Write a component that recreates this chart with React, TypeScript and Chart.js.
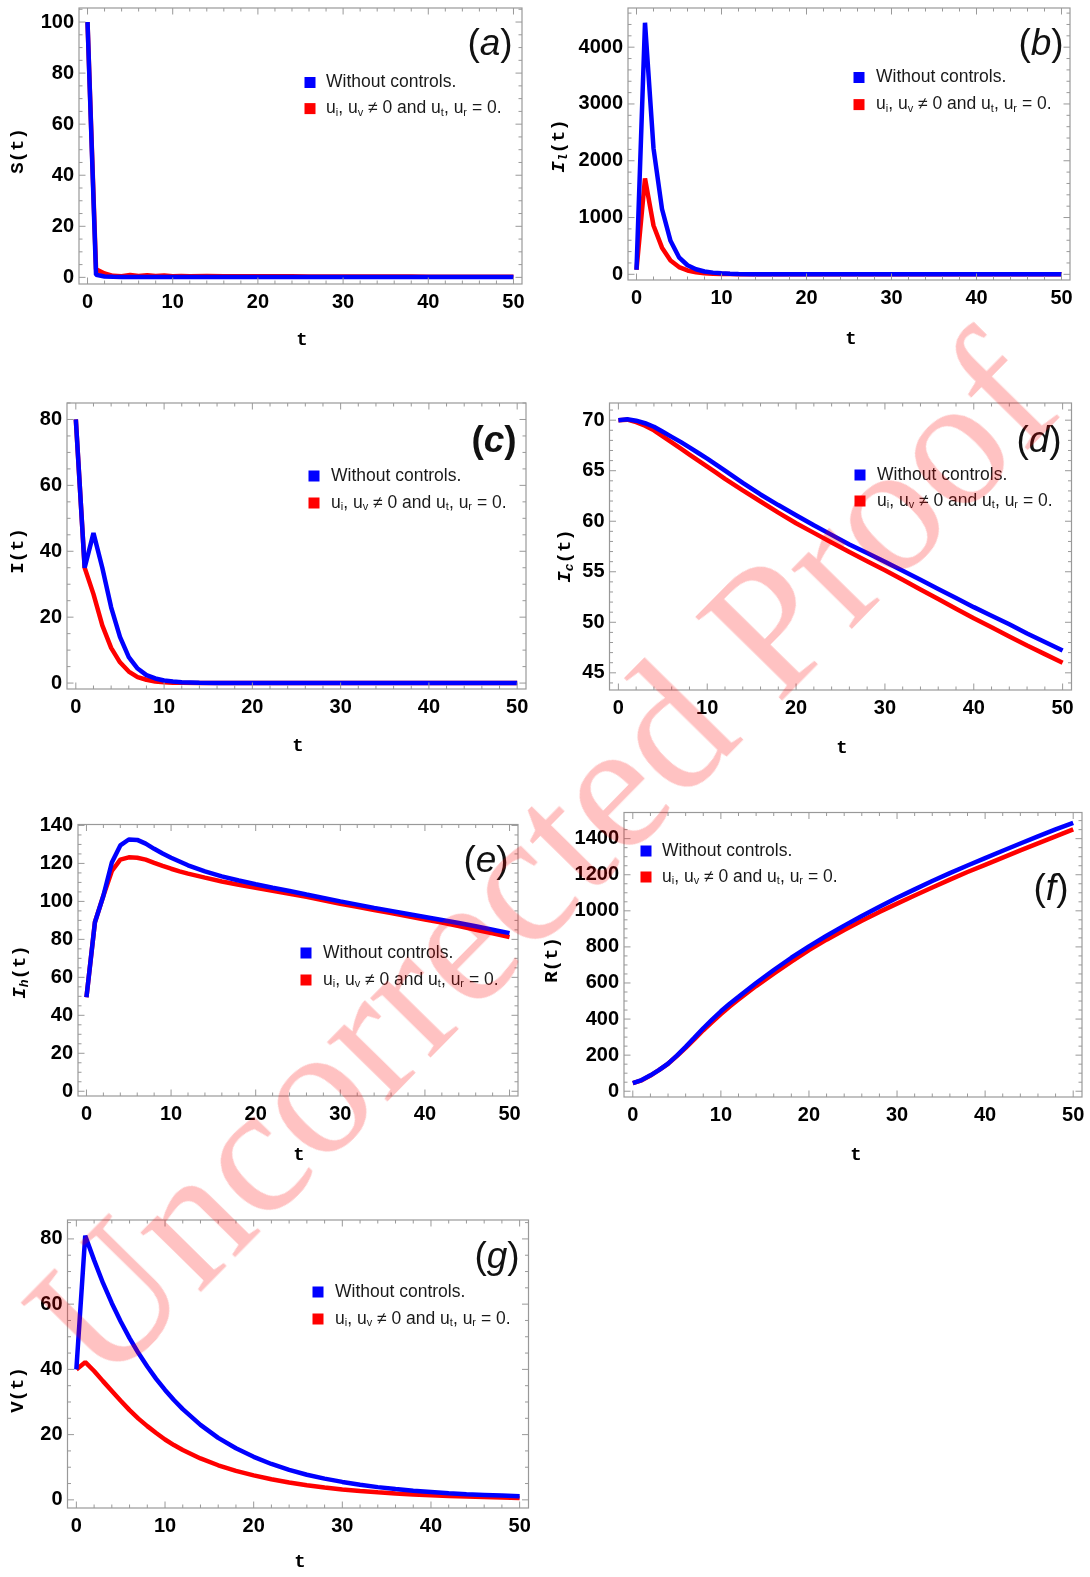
import React, { useEffect, useRef } from 'react';
import { Chart, registerables } from 'chart.js';

Chart.register(...registerables);

// ---------- data ----------
const T = [0, 1, 2, 3, 4, 5, 6, 7, 8, 9, 10, 11, 12, 14, 16, 18, 20, 22, 24, 26, 28, 30, 32, 34, 36, 38, 40, 42, 44, 46, 48, 50];

const S_blue = [100, 1.0, 0.35, 0.2, 0.15, 0.12, 0.1, 0.1, 0.1, 0.1, 0.1, 0.1, 0.1, 0.1, 0.1, 0.1, 0.1, 0.1, 0.1, 0.1, 0.1, 0.1, 0.1, 0.1, 0.1, 0.1, 0.1, 0.1, 0.1, 0.1, 0.1, 0.1];
const S_red = [100, 3.2, 1.5, 0.6, 0.4, 0.9, 0.5, 0.8, 0.5, 0.7, 0.45, 0.55, 0.45, 0.5, 0.45, 0.45, 0.4, 0.4, 0.4, 0.35, 0.35, 0.35, 0.3, 0.3, 0.3, 0.3, 0.25, 0.25, 0.25, 0.25, 0.2, 0.2];

const IL_blue = [80, 4430, 2220, 1150, 590, 300, 160, 90, 50, 30, 18, 11, 6, 2, 1, 0.5, 0.3, 0.2, 0.1, 0.1, 0.1, 0.1, 0.1, 0.1, 0.1, 0.1, 0.1, 0.1, 0.1, 0.1, 0.1, 0.1];
const IL_red = [80, 1690, 860, 470, 245, 128, 68, 36, 20, 11, 6, 3.5, 2, 0.7, 0.3, 0.15, 0.1, 0.1, 0.1, 0.1, 0.1, 0.1, 0.1, 0.1, 0.1, 0.1, 0.1, 0.1, 0.1, 0.1, 0.1, 0.1];

const I_blue = [80, 35, 45.5, 35, 23, 14, 7.9, 4.4, 2.4, 1.4, 0.8, 0.45, 0.25, 0.1, 0.05, 0.02, 0.01, 0, 0, 0, 0, 0, 0, 0, 0, 0, 0, 0, 0, 0, 0, 0];
const I_red = [80, 35, 27, 17.5, 10.7, 6.3, 3.5, 1.8, 1.0, 0.5, 0.25, 0.12, 0.06, 0.02, 0.01, 0, 0, 0, 0, 0, 0, 0, 0, 0, 0, 0, 0, 0, 0, 0, 0, 0];

const Ic_blue = [70.0, 70.1, 69.95, 69.7, 69.35, 68.85, 68.35, 67.85, 67.3, 66.75, 66.2, 65.6, 65.0, 63.8, 62.65, 61.6, 60.6, 59.6, 58.65, 57.7, 56.85, 56.0, 55.1, 54.2, 53.3, 52.4, 51.5, 50.65, 49.8, 48.9, 48.05, 47.2];
const Ic_red = [70.0, 70.05, 69.8, 69.45, 69.0, 68.4, 67.8, 67.2, 66.6, 66.0, 65.4, 64.8, 64.2, 63.05, 61.95, 60.85, 59.8, 58.85, 57.9, 56.95, 56.05, 55.15, 54.2, 53.25, 52.3, 51.35, 50.4, 49.5, 48.6, 47.7, 46.85, 46.0];

const Ih_blue = [49.5, 89, 103, 120.5, 129.5, 132.6, 132.4, 130.4, 127.7, 125.2, 123, 121, 119, 115.8, 113.2, 111, 109, 107.2, 105.5, 103.6, 101.8, 100, 98.3, 96.6, 95, 93.4, 91.8, 90.2, 88.6, 86.9, 85.1, 83.3];
const Ih_red = [49.5, 89, 103, 116, 122, 123.2, 123, 122, 120.3, 118.7, 117.2, 115.8, 114.6, 112.5, 110.5, 108.8, 107.2, 105.6, 104, 102.4, 100.6, 98.8, 97.2, 95.5, 93.9, 92.2, 90.5, 88.8, 87, 85.1, 83.2, 81.2];

const R_blue = [45, 62, 88, 118, 153, 197, 246, 297, 349, 397, 443, 485, 523, 600, 672, 740, 803, 862, 918, 971, 1022, 1072, 1119, 1165, 1209, 1251, 1292, 1333, 1373, 1413, 1451, 1488];
const R_red = [45, 60, 87, 118, 152, 195, 240, 288, 338, 383, 428, 470, 508, 583, 652, 718, 782, 840, 894, 945, 994, 1040, 1085, 1129, 1173, 1215, 1255, 1295, 1335, 1374, 1413, 1451];

const V_blue = [40, 81, 73.5, 66.5, 60.3, 54.7, 49.6, 45, 40.9, 37.1, 33.7, 30.6, 27.8, 23, 19, 15.8, 13.2, 11, 9.2, 7.7, 6.5, 5.5, 4.6, 3.9, 3.3, 2.8, 2.4, 2.0, 1.7, 1.5, 1.3, 1.1];
const V_red = [40, 42.2, 39.5, 36.4, 33.4, 30.4, 27.5, 24.9, 22.6, 20.5, 18.5, 16.8, 15.3, 12.7, 10.6, 8.9, 7.5, 6.3, 5.3, 4.5, 3.8, 3.2, 2.7, 2.3, 1.95, 1.65, 1.4, 1.2, 1.0, 0.85, 0.72, 0.6];

// tick labels
const X_TICKS = [0, 10, 20, 30, 40, 50];
const S_TICKS = [0, 20, 40, 60, 80, 100];
const IL_TICKS = [0, 1000, 2000, 3000, 4000];
const I_TICKS = [0, 20, 40, 60, 80];
const IC_TICKS = [45, 50, 55, 60, 65, 70];
const IH_TICKS = [0, 20, 40, 60, 80, 100, 120, 140];
const R_TICKS = [0, 200, 400, 600, 800, 1000, 1200, 1400];
const V_TICKS = [0, 20, 40, 60, 80];

const X_MIN = -1;
const X_MAX = 51;
const X_STEP = 10;
const X_MINOR = 2;

const LEGEND_BLUE = 'Without controls.';
const LEGEND_RED = 'ui, uv \u2260 0 and ut, ur = 0.';

// ---------- styles ----------
const BLUE = '#0000ff';
const RED = '#ff0000';
const FRAME = '#999999';
const MONO = '"Liberation Mono", "DejaVu Sans Mono", monospace';
const SANS = '"Liberation Sans", Arial, sans-serif';

type Part = { t: string; f: string; dy?: number };

const TITLE_F = `bold 19px ${MONO}`;
const TITLE_IT = `italic bold 19px ${MONO}`;
const TITLE_SUB = `italic bold 13px ${MONO}`;
const LEG_F = `17.5px ${SANS}`;
const LEG_SUB = `11px ${SANS}`;

const legendRed: Part[] = [
  { t: 'u', f: LEG_F }, { t: 'i', f: LEG_SUB, dy: 4 },
  { t: ', u', f: LEG_F }, { t: 'v', f: LEG_SUB, dy: 4 },
  { t: ' \u2260 0 and u', f: LEG_F }, { t: 't', f: LEG_SUB, dy: 4 },
  { t: ', u', f: LEG_F }, { t: 'r', f: LEG_SUB, dy: 4 },
  { t: ' = 0.', f: LEG_F },
];

const sub = (main: string, s: string): Part[] => [
  { t: main, f: TITLE_IT },
  { t: s, f: TITLE_SUB, dy: 5 },
  { t: '(t)', f: TITLE_F },
];

type Panel = {
  id: string;
  blue: number[];
  red: number[];
  yTicks: number[];
  yMin: number; yMax: number; yStep: number; yMinor: number;
  frame: { l: number; t: number; r: number; b: number };
  cv: { x: number; y: number; w: number; h: number };
  yTitle: Part[]; yTitlePos: [number, number];
  xTitlePos: [number, number];
  label: string; labelPos: [number, number]; labelBold?: boolean;
  legend: { sx: number; y1: number; y2: number; tx: number };
};

const PANELS: Panel[] = [
  {
    id: 'a', blue: S_blue, red: S_red, yTicks: S_TICKS, yMin: -2.6, yMax: 105.5, yStep: 20, yMinor: 5,
    frame: { l: 79, t: 8, r: 522, b: 284 }, cv: { x: 0, y: 0, w: 545, h: 360 },
    yTitle: [{ t: 'S(t)', f: TITLE_F }], yTitlePos: [18, 151], xTitlePos: [302, 340],
    label: 'a', labelPos: [490, 45], legend: { sx: 310, y1: 82.5, y2: 108.6, tx: 326 },
  },
  {
    id: 'b', blue: IL_blue, red: IL_red, yTicks: IL_TICKS, yMin: -100, yMax: 4690, yStep: 1000, yMinor: 200,
    frame: { l: 628, t: 8, r: 1070, b: 280 }, cv: { x: 540, y: 0, w: 550, h: 360 },
    yTitle: sub('I', 'l'), yTitlePos: [559, 146], xTitlePos: [851, 339],
    label: 'b', labelPos: [1041, 45], legend: { sx: 859, y1: 77.5, y2: 104.6, tx: 876 },
  },
  {
    id: 'c', blue: I_blue, red: I_red, yTicks: I_TICKS, yMin: -1.8, yMax: 85, yStep: 20, yMinor: 5,
    frame: { l: 67, t: 403, r: 526, b: 689 }, cv: { x: 0, y: 378, w: 545, h: 392 },
    yTitle: [{ t: 'I(t)', f: TITLE_F }], yTitlePos: [18, 551], xTitlePos: [298, 746],
    label: 'c', labelPos: [494, 442], labelBold: true, legend: { sx: 314, y1: 476, y2: 503, tx: 331 },
  },
  {
    id: 'd', blue: Ic_blue, red: Ic_red, yTicks: IC_TICKS, yMin: 43.3, yMax: 71.7, yStep: 5, yMinor: 1,
    frame: { l: 609.5, t: 403, r: 1071.5, b: 690 }, cv: { x: 540, y: 378, w: 550, h: 392 },
    yTitle: sub('I', 'c'), yTitlePos: [565, 556], xTitlePos: [842, 748],
    label: 'd', labelPos: [1039, 442], legend: { sx: 860, y1: 475, y2: 501, tx: 877 },
  },
  {
    id: 'e', blue: Ih_blue, red: Ih_red, yTicks: IH_TICKS, yMin: -2.5, yMax: 140.5, yStep: 20, yMinor: 5,
    frame: { l: 78, t: 824.5, r: 518, b: 1096 }, cv: { x: 0, y: 795, w: 545, h: 380 },
    yTitle: sub('I', 'h'), yTitlePos: [20, 972], xTitlePos: [299, 1155],
    label: 'e', labelPos: [486, 862], legend: { sx: 306, y1: 953, y2: 980, tx: 323 },
  },
  {
    id: 'f', blue: R_blue, red: R_red, yTicks: R_TICKS, yMin: -32, yMax: 1545, yStep: 200, yMinor: 50,
    frame: { l: 624, t: 812.5, r: 1082, b: 1097 }, cv: { x: 540, y: 790, w: 550, h: 385 },
    yTitle: [{ t: 'R(t)', f: TITLE_F }], yTitlePos: [552, 960], xTitlePos: [856, 1155],
    label: 'f', labelPos: [1051, 890], legend: { sx: 646, y1: 851, y2: 877, tx: 662 },
  },
  {
    id: 'g', blue: V_blue, red: V_red, yTicks: V_TICKS, yMin: -2.5, yMax: 85.8, yStep: 20, yMinor: 5,
    frame: { l: 67.5, t: 1220, r: 528.5, b: 1508 }, cv: { x: 0, y: 1195, w: 545, h: 382 },
    yTitle: [{ t: 'V(t)', f: TITLE_F }], yTitlePos: [18, 1390], xTitlePos: [300, 1562],
    label: 'g', labelPos: [497, 1258], legend: { sx: 318, y1: 1292, y2: 1319, tx: 335 },
  },
];

function measure(ctx: CanvasRenderingContext2D, parts: Part[]) {
  let w = 0;
  for (const p of parts) { ctx.font = p.f; w += ctx.measureText(p.t).width; }
  return w;
}

function drawRich(ctx: CanvasRenderingContext2D, parts: Part[], x: number, y: number, align: 'left' | 'center') {
  const w = measure(ctx, parts);
  let cx = align === 'center' ? x - w / 2 : x;
  ctx.textAlign = 'left';
  ctx.textBaseline = 'middle';
  for (const p of parts) {
    ctx.font = p.f;
    ctx.fillText(p.t, cx, y + (p.dy || 0));
    cx += ctx.measureText(p.t).width;
  }
}

function makePlugin(p: Panel) {
  return {
    id: 'mma_' + p.id,
    afterDraw(chart: any) {
      const ctx: CanvasRenderingContext2D = chart.ctx;
      const { left, right, top, bottom } = chart.chartArea;
      const xs = chart.scales.x;
      const ys = chart.scales.y;
      const ox = p.cv.x, oy = p.cv.y;
      ctx.save();
      // frame
      ctx.strokeStyle = FRAME;
      ctx.lineWidth = 1.2;
      ctx.strokeRect(left, top, right - left, bottom - top);
      // ticks on all four sides, inward
      ctx.lineWidth = 1;
      ctx.beginPath();
      const eps = 1e-6;
      for (let v = Math.ceil(X_MIN / X_MINOR) * X_MINOR; v <= X_MAX + eps; v += X_MINOR) {
        const major = Math.abs(v / X_STEP - Math.round(v / X_STEP)) < eps;
        const len = major ? 6.5 : 3.5;
        const px = xs.getPixelForValue(v);
        ctx.moveTo(px, bottom); ctx.lineTo(px, bottom - len);
        ctx.moveTo(px, top); ctx.lineTo(px, top + len);
      }
      for (let v = Math.ceil(p.yMin / p.yMinor) * p.yMinor; v <= p.yMax + eps; v += p.yMinor) {
        const major = Math.abs(v / p.yStep - Math.round(v / p.yStep)) < eps;
        const len = major ? 6.5 : 3.5;
        const py = ys.getPixelForValue(v);
        ctx.moveTo(left, py); ctx.lineTo(left + len, py);
        ctx.moveTo(right, py); ctx.lineTo(right - len, py);
      }
      ctx.stroke();

      ctx.fillStyle = '#000';
      // x title
      drawRich(ctx, [{ t: 't', f: TITLE_F }], p.xTitlePos[0] - ox, p.xTitlePos[1] - oy, 'center');
      // y title rotated
      ctx.save();
      ctx.translate(p.yTitlePos[0] - ox, p.yTitlePos[1] - oy);
      ctx.rotate(-Math.PI / 2);
      drawRich(ctx, p.yTitle, 0, 0, 'center');
      ctx.restore();

      // panel label
      const lf = `${p.labelBold ? 'bold ' : ''}37px ${SANS}`;
      const lfi = `italic ${p.labelBold ? 'bold ' : ''}37px ${SANS}`;
      ctx.fillStyle = '#111';
      drawRich(ctx, [{ t: '(', f: lf }, { t: p.label, f: lfi }, { t: ')', f: lf }], p.labelPos[0] - ox, p.labelPos[1] - oy, 'center');

      // legend
      const L = p.legend;
      const sq = 11;
      ctx.fillStyle = BLUE;
      ctx.fillRect(L.sx - ox - sq / 2, L.y1 - oy - sq / 2, sq, sq);
      ctx.fillStyle = RED;
      ctx.fillRect(L.sx - ox - sq / 2, L.y2 - oy - sq / 2, sq, sq);
      ctx.fillStyle = '#1a1a1a';
      drawRich(ctx, [{ t: LEGEND_BLUE, f: LEG_F }], L.tx - ox, L.y1 - oy, 'left');
      drawRich(ctx, legendRed, L.tx - ox, L.y2 - oy, 'left');
      ctx.restore();
    },
  };
}

function PanelChart({ p }: { p: Panel }) {
  const ref = useRef<HTMLCanvasElement>(null);
  useEffect(() => {
    const canvas = ref.current;
    if (!canvas) return;
    const tickFont = { family: 'Liberation Sans', size: 20, weight: 'bold' as const };
    const chart = new Chart(canvas, {
      type: 'line',
      data: {
        datasets: [
          {
            label: LEGEND_BLUE,
            data: T.map((t, i) => ({ x: t, y: p.blue[i] })),
            borderColor: BLUE, backgroundColor: BLUE, borderWidth: 4.5,
            pointRadius: 0, tension: 0, fill: false, borderJoinStyle: 'bevel',
          },
          {
            label: LEGEND_RED,
            data: T.map((t, i) => ({ x: t, y: p.red[i] })),
            borderColor: RED, backgroundColor: RED, borderWidth: 4.5,
            pointRadius: 0, tension: 0, fill: false, borderJoinStyle: 'bevel',
          },
        ],
      },
      options: {
        responsive: false,
        animation: false,
        devicePixelRatio: 1,
        layout: {
          padding: { left: 0, top: p.frame.t - p.cv.y, right: p.cv.x + p.cv.w - p.frame.r, bottom: 0 },
        },
        plugins: { legend: { display: false }, tooltip: { enabled: false } },
        scales: {
          x: {
            type: 'linear', min: X_MIN, max: X_MAX,
            grid: { display: false, drawTicks: false },
            border: { display: false },
            ticks: {
              autoSkip: false, maxRotation: 0,
              padding: 6, font: tickFont, color: '#000',
              callback: (v: any) => String(v),
            },
            afterBuildTicks: (s: any) => { s.ticks = X_TICKS.map((v) => ({ value: v })); },
            afterFit: (s: any) => { s.height = p.cv.y + p.cv.h - p.frame.b; s.paddingLeft = 0; s.paddingRight = 0; },
          },
          y: {
            type: 'linear', min: p.yMin, max: p.yMax,
            grid: { display: false, drawTicks: false },
            border: { display: false },
            ticks: {
              autoSkip: false,
              padding: 5, font: tickFont, color: '#000',
              callback: (v: any) => String(v),
            },
            afterBuildTicks: (s: any) => { s.ticks = p.yTicks.map((v) => ({ value: v })); },
            afterFit: (s: any) => { s.width = p.frame.l - p.cv.x; s.paddingTop = 0; s.paddingBottom = 0; },
          },
        },
      } as any,
      plugins: [makePlugin(p)],
    });
    return () => chart.destroy();
  }, [p]);
  return (
    <canvas
      ref={ref}
      width={p.cv.w}
      height={p.cv.h}
      style={{ position: 'absolute', left: p.cv.x, top: p.cv.y, width: p.cv.w, height: p.cv.h }}
    />
  );
}

export default function App() {
  return (
    <div style={{ position: 'absolute', left: 0, top: 0, width: 1090, height: 1577, background: '#fff', overflow: 'hidden' }}>
      {PANELS.map((p) => <PanelChart key={p.id} p={p} />)}
      <div
        style={{
          position: 'absolute', left: 540, top: 857, transform: 'translate(-50%, -50%) rotate(-45.5deg)',
          fontFamily: '"Liberation Serif", "DejaVu Serif", serif', fontSize: 185, lineHeight: 1,
          color: 'rgba(255, 0, 0, 0.24)', whiteSpace: 'nowrap', pointerEvents: 'none',
        }}
      >
        Uncorrected Proof
      </div>
    </div>
  );
}
